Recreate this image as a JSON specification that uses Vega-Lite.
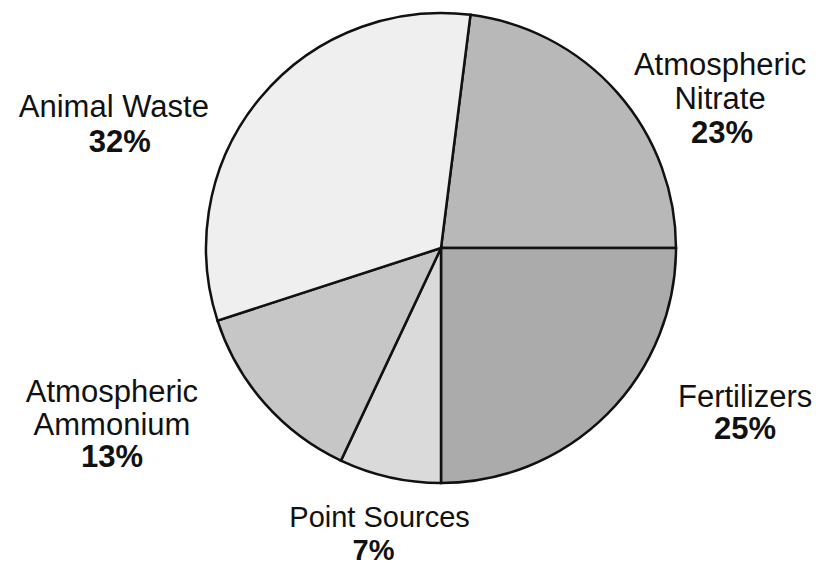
{
  "$schema": "https://vega.github.io/schema/vega-lite/v6.json",
  "autosize": "none",
  "width": 764,
  "height": 496,
  "padding": {"left": 59, "top": 0, "right": 0, "bottom": 70},
  "background": "white",
  "config": {"view": {"stroke": null}, "text": {"font": "Liberation Sans"}},
  "data": {
    "values": [
      {"cat": "Atmospheric Nitrate", "name": "Atmospheric\nNitrate", "pct": 23, "label": "23%", "ord": 1},
      {"cat": "Fertilizers", "name": "Fertilizers", "pct": 25, "label": "25%", "ord": 2},
      {"cat": "Point Sources", "name": "Point Sources", "pct": 7, "label": "7%", "ord": 3},
      {"cat": "Atmospheric Ammonium", "name": "Atmospheric\nAmmonium", "pct": 13, "label": "13%", "ord": 4},
      {"cat": "Animal Waste", "name": "Animal Waste", "pct": 32, "label": "32%", "ord": 5}
    ]
  },
  "encoding": {
    "theta": {"field": "pct", "type": "quantitative", "stack": true, "scale": {"domain": [0, 100], "range": [0.12566, 6.40885]}},
    "order": {"field": "ord", "type": "quantitative"}
  },
  "layer": [
    {
      "mark": {"type": "arc", "outerRadius": 235, "stroke": "#111", "strokeWidth": 2.5},
      "encoding": {
        "color": {"field": "cat", "type": "nominal", "legend": null,
          "scale": {"domain": ["Atmospheric Nitrate", "Fertilizers", "Point Sources", "Atmospheric Ammonium", "Animal Waste"],
                    "range": ["#b8b8b8", "#ababab", "#dadada", "#c6c6c6", "#efefef"]}}
      }
    },
    {
      "mark": {"type": "text", "radius": 300, "dx": 54, "dy": 16, "fontSize": 31, "lineBreak": "\n", "lineHeight": 34, "fill": "#111"},
      "encoding": {"text": {"condition": {"test": "datum.cat === 'Atmospheric Nitrate'", "field": "name"}, "value": ""}}
    },
    {
      "mark": {"type": "text", "radius": 300, "dx": 56, "dy": 84, "fontSize": 31, "fontWeight": "bold", "fill": "#111"},
      "encoding": {"text": {"condition": {"test": "datum.cat === 'Atmospheric Nitrate'", "field": "label"}, "value": ""}}
    },
    {
      "mark": {"type": "text", "radius": 300, "dx": 92, "dy": -62, "fontSize": 31, "fill": "#111"},
      "encoding": {"text": {"condition": {"test": "datum.cat === 'Fertilizers'", "field": "name"}, "value": ""}}
    },
    {
      "mark": {"type": "text", "radius": 300, "dx": 92, "dy": -30, "fontSize": 31, "fontWeight": "bold", "fill": "#111"},
      "encoding": {"text": {"condition": {"test": "datum.cat === 'Fertilizers'", "field": "label"}, "value": ""}}
    },
    {
      "mark": {"type": "text", "radius": 300, "dx": 4, "dy": -23, "fontSize": 29, "fill": "#111"},
      "encoding": {"text": {"condition": {"test": "datum.cat === 'Point Sources'", "field": "name"}, "value": ""}}
    },
    {
      "mark": {"type": "text", "radius": 300, "dx": -2, "dy": 10, "fontSize": 29, "fontWeight": "bold", "fill": "#111"},
      "encoding": {"text": {"condition": {"test": "datum.cat === 'Point Sources'", "field": "label"}, "value": ""}}
    },
    {
      "mark": {"type": "text", "radius": 300, "dx": -104, "dy": -53, "fontSize": 31, "lineBreak": "\n", "lineHeight": 33, "fill": "#111"},
      "encoding": {"text": {"condition": {"test": "datum.cat === 'Atmospheric Ammonium'", "field": "name"}, "value": ""}}
    },
    {
      "mark": {"type": "text", "radius": 300, "dx": -104, "dy": 12, "fontSize": 31, "fontWeight": "bold", "fill": "#111"},
      "encoding": {"text": {"condition": {"test": "datum.cat === 'Atmospheric Ammonium'", "field": "label"}, "value": ""}}
    },
    {
      "mark": {"type": "text", "radius": 300, "dx": -96, "dy": 51, "fontSize": 31, "fill": "#111"},
      "encoding": {"text": {"condition": {"test": "datum.cat === 'Animal Waste'", "field": "name"}, "value": ""}}
    },
    {
      "mark": {"type": "text", "radius": 300, "dx": -90, "dy": 86, "fontSize": 31, "fontWeight": "bold", "fill": "#111"},
      "encoding": {"text": {"condition": {"test": "datum.cat === 'Animal Waste'", "field": "label"}, "value": ""}}
    }
  ]
}
